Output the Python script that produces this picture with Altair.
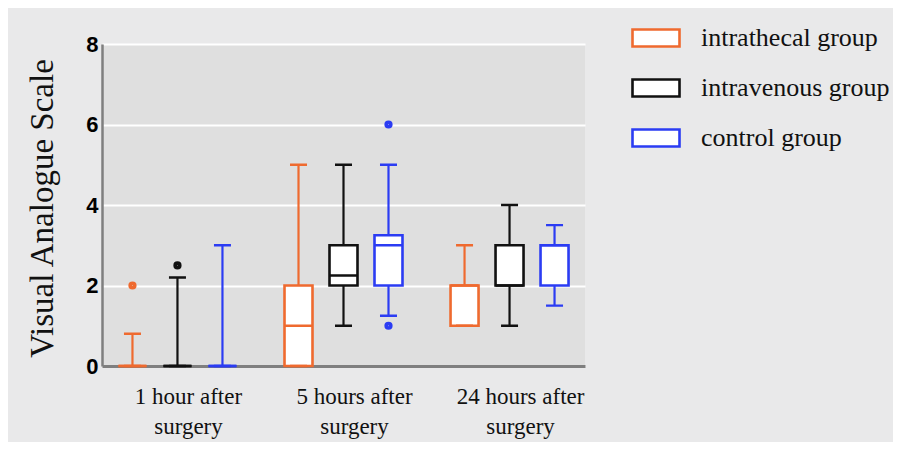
import altair as alt
import pandas as pd

# ---- data ----
times = ["1 hour after|surgery", "5 hours after|surgery", "24 hours after|surgery"]
groups = ["intrathecal group", "intravenous group", "control group"]
colors = ["#ef6a2f", "#111111", "#2b3cf3"]

# order: for each time, intrathecal / intravenous / control
whisker_low = [0, 0, 0, 0, 1, 1.25, 1, 1, 1.5]
q1 = [0, 0, 0, 0, 2, 2, 1, 2, 2]
median = [0, 0, 0, 1, 2.25, 3, 2, 2, 3]
q3 = [0, 0, 0, 2, 3, 3.25, 2, 3, 3]
whisker_high = [0.8, 2.2, 3, 5, 5, 5, 3, 4, 3.5]

outlier_time = [times[0], times[0], times[1], times[1]]
outlier_group = [groups[0], groups[1], groups[2], groups[2]]
outlier_value = [2, 2.5, 6, 1]

rows = []
i = 0
for t in times:
    for g in groups:
        rows.append({"time": t, "group": g, "lo": whisker_low[i], "q1": q1[i],
                     "med": median[i], "q3": q3[i], "hi": whisker_high[i]})
        i += 1
box_df = pd.DataFrame(rows)
out_df = pd.DataFrame({"time": outlier_time, "group": outlier_group, "value": outlier_value})

xscale = alt.Scale(domain=times, paddingInner=0.187, paddingOuter=0.048)
xoff_scale = alt.Scale(domain=groups, paddingInner=0, paddingOuter=0)
color_scale = alt.Scale(domain=groups, range=colors)
yscale = alt.Scale(domain=[0, 8], nice=False)

x_enc = alt.X("time:N", sort=times, scale=xscale, axis=alt.Axis(
    title=None, labelExpr="split(datum.label, '|')", labelFont="Liberation Serif",
    labelFontSize=23, labelColor="#111111", labelFontWeight="normal", ticks=False,
    labelPadding=19, labelOffset=11, labelLineHeight=30, labelAngle=0,
    domainColor="#7f7f7f", domainWidth=3, grid=False))
xo_enc = alt.XOffset("group:N", sort=groups, scale=xoff_scale)
stroke_plain = alt.Stroke("group:N", scale=color_scale)

y_axis = alt.Axis(values=[0, 2, 4, 6, 8], labelFont="Liberation Sans", labelFontWeight="bold",
                  labelFontSize=22, labelColor="#000000", ticks=False, labelPadding=4,
                  domainColor="#7f7f7f", domainWidth=2.5, gridColor="#ffffff", gridWidth=2,
                  title="Visual Analogue Scale", titleFont="Liberation Serif", titleFontSize=33,
                  titleFontWeight="normal", titleColor="#111111", titleX=-50, titleY=164,
                  titleAngle=-90, titleBaseline="alphabetic", titleAlign="center")

base = alt.Chart(box_df)

whiskers = base.mark_rule(strokeWidth=2.2).encode(
    x=x_enc, xOffset=xo_enc, stroke=stroke_plain,
    y=alt.Y("lo:Q", scale=yscale, axis=y_axis), y2="hi:Q")

boxes = base.mark_bar(fill="white", strokeWidth=2.6, width=28).encode(
    x=x_enc, xOffset=xo_enc,
    y=alt.Y("q1:Q", scale=yscale), y2="q3:Q",
    stroke=alt.Stroke("group:N", scale=color_scale, legend=alt.Legend(
        title=None, orient="none", legendX=529, legendY=-31, direction="vertical",
        symbolType="M-1,-0.36L1,-0.36L1,0.36L-1,0.36Z", symbolSize=2209,
        symbolFillColor="#ffffff", symbolStrokeWidth=2.6, symbolOpacity=1,
        labelFont="Liberation Serif", labelFontSize=26, labelColor="#111111",
        labelOffset=20, rowPadding=11, labelLimit=400, padding=0)))

med_line = base.mark_bar(fill="white", strokeWidth=2.6, width=28).encode(
    x=x_enc, xOffset=xo_enc, stroke=stroke_plain,
    y=alt.Y("med:Q", scale=yscale), y2="med:Q")
cap_hi = base.mark_bar(fill="white", strokeWidth=2.4, width=17).encode(
    x=x_enc, xOffset=xo_enc, stroke=stroke_plain,
    y=alt.Y("hi:Q", scale=yscale), y2="hi:Q")
cap_lo = base.mark_bar(fill="white", strokeWidth=2.4, width=17).encode(
    x=x_enc, xOffset=xo_enc, stroke=stroke_plain,
    y=alt.Y("lo:Q", scale=yscale), y2="lo:Q")

points = alt.Chart(out_df).mark_point(shape="circle", size=14, strokeWidth=4.5,
                                      filled=False, opacity=1).encode(
    x=x_enc, xOffset=xo_enc, stroke=stroke_plain, y=alt.Y("value:Q", scale=yscale))

chart = alt.layer(whiskers, boxes, med_line, cap_hi, cap_lo, points).properties(
    width=483, height=322,
    background="#e9e9ea",
    padding={"left": 94, "top": 36, "right": 308, "bottom": 76},
    autosize=alt.AutoSizeParams(type="none"),
).configure_view(fill="#dfdfdf", stroke=None)

chart.save("out.html", embed_options={"renderer": "svg", "actions": False})
